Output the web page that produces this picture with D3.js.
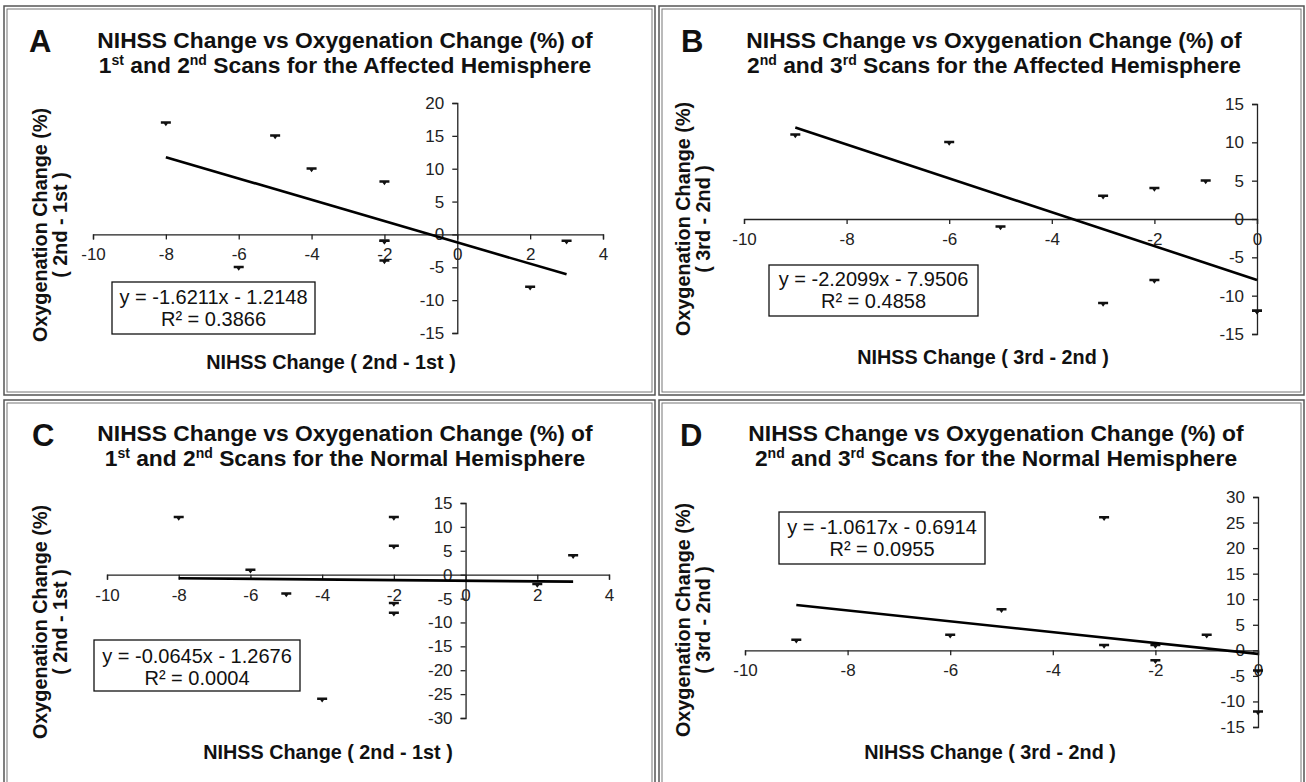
<!DOCTYPE html>
<html><head><meta charset="utf-8">
<script src="https://cdn.jsdelivr.net/npm/d3@7"></script>
<style>
body{margin:0;background:#fff}
svg{display:block}
text{font-family:"Liberation Sans",Arial,Helvetica,sans-serif}
</style>
</head><body>
<svg id="chart" width="1306" height="782"></svg>
<script>
// ---------------- DATA ----------------
const panelLetters = ["A", "B", "C", "D"];

const xA = [-8, -5, -4, -2, -2, -2, -2, -6, 2, 3];
const yA = [17, 15, 10, 8, -1, -1, -4, -5, -8, -1];
const xB = [-9, -6, -5, -3, -2, -1, -3, -2, 0, 0];
const yB = [11, 10, -1, 3, 4, 5, -11, -8, -12, -12];
const xC = [-8, -2, -2, 3, -6, -5, -2, -2, 2, -4];
const yC = [12, 12, 6, 4, 1, -4, -6, -8, -2, -26];
const xD = [-9, -6, -5, -3, -3, -2, -2, -1, 0, 0];
const yD = [2, 3, 8, 26, 1, 1, -2, 3, -4, -12];

// linear fit [slope, intercept]
const fitA = [-1.6211, -1.2148];
const fitB = [-2.2099, -7.9506];
const fitC = [-0.0645, -1.2676];
const fitD = [-1.0617, -0.6914];

const eqA = ["y = -1.6211x - 1.2148", "R² = 0.3866"];
const eqB = ["y = -2.2099x - 7.9506", "R² = 0.4858"];
const eqC = ["y = -0.0645x - 1.2676", "R² = 0.0004"];
const eqD = ["y = -1.0617x - 0.6914", "R² = 0.0955"];

const xTicksA = [-10, -8, -6, -4, -2, 0, 2, 4];
const yTicksA = [-15, -10, -5, 0, 5, 10, 15, 20];
const xTicksB = [-10, -8, -6, -4, -2, 0];
const yTicksB = [-15, -10, -5, 0, 5, 10, 15];
const xTicksC = [-10, -8, -6, -4, -2, 0, 2, 4];
const yTicksC = [-30, -25, -20, -15, -10, -5, 0, 5, 10, 15];
const xTicksD = [-10, -8, -6, -4, -2, 0];
const yTicksD = [-15, -10, -5, 0, 5, 10, 15, 20, 25, 30];

const title1 = "NIHSS Change vs Oxygenation Change (%) of";
const title2A = [["1", 0], ["st", 1], [" and 2", 0], ["nd", 1], [" Scans for the Affected Hemisphere", 0]];
const title2B = [["2", 0], ["nd", 1], [" and 3", 0], ["rd", 1], [" Scans for the Affected Hemisphere", 0]];
const title2C = [["1", 0], ["st", 1], [" and 2", 0], ["nd", 1], [" Scans for the Normal Hemisphere", 0]];
const title2D = [["2", 0], ["nd", 1], [" and 3", 0], ["rd", 1], [" Scans for the Normal Hemisphere", 0]];

const yTitle1 = "Oxygenation Change (%)";
const yTitle2A = "( 2nd - 1st )";
const yTitle2B = "( 3rd - 2nd )";
const xTitleA = "NIHSS Change ( 2nd - 1st )";
const xTitleB = "NIHSS Change ( 3rd - 2nd )";

// ---------------- LAYOUT ----------------
const panels = [
  { letter: panelLetters[0], xs: xA, ys: yA, fit: fitA, eq: eqA, xTicks: xTicksA, yTicks: yTicksA,
    t2: title2A, yt2: yTitle2A, xt: xTitleA,
    box: [4, 6, 651, 389],
    xDom: [-10, 4], xRng: [93, 603], yDom: [-15, 20], yRng: [333, 103],
    letterPos: [29, 52], titleX: 345, titleY: [48, 73],
    yTitle: [47, 67, 225], xTitle: [331, 369],
    eqBox: [112, 282, 203, 52], eqY: [304, 326] },
  { letter: panelLetters[1], xs: xB, ys: yB, fit: fitB, eq: eqB, xTicks: xTicksB, yTicks: yTicksB,
    t2: title2B, yt2: yTitle2B, xt: xTitleB,
    box: [659, 6, 645, 389],
    xDom: [-10, 0], xRng: [744, 1257], yDom: [-15, 15], yRng: [334, 104],
    letterPos: [681, 52], titleX: 994, titleY: [48, 73],
    yTitle: [690, 710, 219], xTitle: [983, 364],
    eqBox: [769, 265, 209, 51], eqY: [286, 308] },
  { letter: panelLetters[2], xs: xC, ys: yC, fit: fitC, eq: eqC, xTicks: xTicksC, yTicks: yTicksC,
    t2: title2C, yt2: yTitle2A, xt: xTitleA,
    box: [4, 400, 651, 400],
    xDom: [-10, 4], xRng: [107, 609], yDom: [-30, 15], yRng: [718, 503],
    letterPos: [32, 446], titleX: 345, titleY: [441, 466],
    yTitle: [47, 67, 622], xTitle: [328, 759],
    eqBox: [94, 640, 206, 51], eqY: [663, 685] },
  { letter: panelLetters[3], xs: xD, ys: yD, fit: fitD, eq: eqD, xTicks: xTicksD, yTicks: yTicksD,
    t2: title2D, yt2: yTitle2B, xt: xTitleB,
    box: [659, 400, 645, 400],
    xDom: [-10, 0], xRng: [745, 1258], yDom: [-15, 30], yRng: [727, 497],
    letterPos: [680, 446], titleX: 996, titleY: [441, 466],
    yTitle: [690, 710, 620], xTitle: [990, 759],
    eqBox: [779, 512, 206, 52], eqY: [534, 556] }
];

const svg = d3.select("#chart");
svg.append("rect").attr("width", 1306).attr("height", 782).attr("fill", "#fff");

const markerPath = "M-5,-1.5 H5 V1 H-5 Z M-2.2,0.5 L2.2,0.5 L0,3.5 Z";

panels.forEach(p => {
  const g = svg.append("g");
  const [bx, by, bw, bh] = p.box;
  g.append("rect").attr("x", bx).attr("y", by).attr("width", bw).attr("height", bh)
    .attr("fill", "none").attr("stroke", "#555").attr("stroke-width", 1.5);
  g.append("rect").attr("x", bx + 3).attr("y", by + 3).attr("width", bw - 6).attr("height", bh - 6)
    .attr("fill", "none").attr("stroke", "#777").attr("stroke-width", 1);

  // letter
  g.append("text").attr("x", p.letterPos[0]).attr("y", p.letterPos[1])
    .attr("font-size", 31).attr("font-weight", "bold").attr("fill", "#111").text(p.letter);

  // title
  g.append("text").attr("x", p.titleX).attr("y", p.titleY[0]).attr("text-anchor", "middle")
    .attr("font-size", 22.8).attr("font-weight", "bold").attr("fill", "#111").text(title1);
  const t2 = g.append("text").attr("x", p.titleX).attr("y", p.titleY[1]).attr("text-anchor", "middle")
    .attr("font-size", 22.8).attr("font-weight", "bold").attr("fill", "#111");
  p.t2.forEach(([s, sup]) => {
    const ts = t2.append("tspan").text(s);
    if (sup) ts.attr("font-size", 14).attr("baseline-shift", "super");
  });

  const x = d3.scaleLinear().domain(p.xDom).range(p.xRng);
  const y = d3.scaleLinear().domain(p.yDom).range(p.yRng);

  // axes
  const gx = g.append("g").attr("transform", `translate(0,${y(0)})`)
    .call(d3.axisBottom(x).tickValues(p.xTicks).tickSize(5).tickSizeOuter(5).tickPadding(9).tickFormat(d3.format("d")));
  const gy = g.append("g").attr("transform", `translate(${x(0)},0)`)
    .call(d3.axisLeft(y).tickValues(p.yTicks).tickSize(5).tickSizeOuter(5).tickPadding(8).tickFormat(d3.format("d")));
  [gx, gy].forEach(a => {
    a.attr("font-size", 17).attr("font-family", '"Liberation Sans",Arial,sans-serif');
    a.selectAll("path,line").attr("stroke", "#222").attr("stroke-width", 1.3);
    a.selectAll("text").attr("fill", "#222").text(d => String(d));
  });

  // points
  g.append("g").selectAll("path").data(p.xs.map((v, i) => [v, p.ys[i]])).join("path")
    .attr("d", markerPath)
    .attr("transform", d => `translate(${x(d[0])},${y(d[1])})`)
    .attr("fill", "#111");

  // trend line
  const ext = d3.extent(p.xs);
  g.append("line")
    .attr("x1", x(ext[0])).attr("y1", y(p.fit[0] * ext[0] + p.fit[1]))
    .attr("x2", x(ext[1])).attr("y2", y(p.fit[0] * ext[1] + p.fit[1]))
    .attr("stroke", "#000").attr("stroke-width", 2.6);

  // equation box
  const [ex, ey, ew, eh] = p.eqBox;
  g.append("rect").attr("x", ex).attr("y", ey).attr("width", ew).attr("height", eh)
    .attr("fill", "#fff").attr("stroke", "#111").attr("stroke-width", 1.3);
  p.eq.forEach((s, i) => {
    g.append("text").attr("x", ex + ew / 2).attr("y", p.eqY[i]).attr("text-anchor", "middle")
      .attr("font-size", 20).attr("fill", "#111").text(s);
  });

  // y title
  const [yl1, yl2, yc] = p.yTitle;
  g.append("text").attr("transform", `translate(${yl1},${yc}) rotate(-90)`).attr("text-anchor", "middle")
    .attr("font-size", 19.8).attr("font-weight", "bold").attr("fill", "#111").text(yTitle1);
  g.append("text").attr("transform", `translate(${yl2},${yc}) rotate(-90)`).attr("text-anchor", "middle")
    .attr("font-size", 19.8).attr("font-weight", "bold").attr("fill", "#111").text(p.yt2);

  // x title
  g.append("text").attr("x", p.xTitle[0]).attr("y", p.xTitle[1]).attr("text-anchor", "middle")
    .attr("font-size", 19.8).attr("font-weight", "bold").attr("fill", "#111").text(p.xt);
});
</script>
</body></html>
